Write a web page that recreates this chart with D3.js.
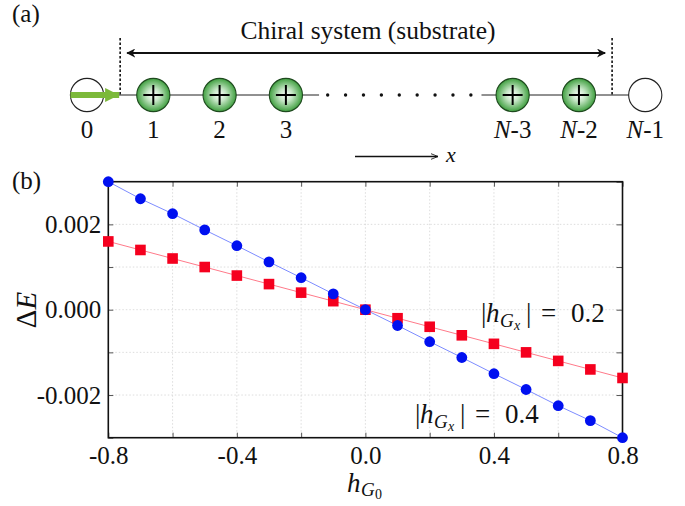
<!DOCTYPE html>
<html>
<head>
<meta charset="utf-8">
<script src="https://cdn.jsdelivr.net/npm/d3@7"></script>
<style>
  body { margin: 0; background: #fff; }
  svg { display: block; }
  text { font-family: "Liberation Serif", "Tinos", "Times New Roman", "DejaVu Serif", "Noto Serif", serif; fill: #111; }
</style>
</head>
<body>
<svg id="fig" width="685" height="506"></svg>
<script>
// --- data ---
const hG0 = [-0.8, -0.7, -0.6, -0.5, -0.4, -0.3, -0.2, -0.1, 0.0, 0.1, 0.2, 0.3, 0.4, 0.5, 0.6, 0.7, 0.8];
const dE_h02 = [0.0016, 0.0014, 0.0012, 0.0010, 0.0008, 0.0006, 0.0004, 0.0002, 0.0, -0.0002, -0.0004, -0.0006, -0.0008, -0.0010, -0.0012, -0.0014, -0.0016];
const dE_h04 = [0.0030, 0.0026, 0.00225, 0.00187, 0.0015, 0.00112, 0.00075, 0.00037, 0.0, -0.00037, -0.00075, -0.00112, -0.0015, -0.00187, -0.00225, -0.0026, -0.0030];
const xTicks = [-0.8, -0.6, -0.4, -0.2, 0.0, 0.2, 0.4, 0.6, 0.8];
const xTickLabels = [-0.8, -0.4, 0.0, 0.4, 0.8];
const yTicks = [-0.003, -0.002, -0.001, 0.0, 0.001, 0.002, 0.003];
const yTickLabels = [-0.002, 0.0, 0.002];

// chain diagram (panel a)
const siteSlot = [0, 1, 2, 3, 6.42, 7.42, 8.42];
const siteName = [["0"], ["1"], ["2"], ["3"], ["N", "-3"], ["N", "-2"], ["N", "-1"]];
const siteKind = ["empty", "plus", "plus", "plus", "plus", "plus", "empty"];
const dotSlot = [3.63, 3.9, 4.17, 4.44, 4.71, 4.98, 5.25, 5.52, 5.79];

const FONT = "'Liberation Serif', 'Tinos', 'Times New Roman', 'DejaVu Serif', serif";

const svg = d3.select("#fig");
svg.append("rect").attr("width", 685).attr("height", 506).attr("fill", "#fff");

// ---------------- panel (a) ----------------
const sx = d3.scaleLinear().domain([0, 1]).range([87, 153.3]);
const chainY = 95, r = 16.6;

const defs = svg.append("defs");
const grad = defs.append("radialGradient").attr("id", "ball")
    .attr("cx", "50%").attr("cy", "50%").attr("r", "50%");
grad.append("stop").attr("offset", "0%").attr("stop-color", "#ffffff");
grad.append("stop").attr("offset", "40%").attr("stop-color", "#c4e5c4");
grad.append("stop").attr("offset", "100%").attr("stop-color", "#3f9f3f");

const gA = svg.append("g");
gA.append("text").attr("x", 12).attr("y", 22).attr("font-size", 25).text("(a)");

// chain line (two pieces around the dots)
gA.append("line").attr("x1", sx(0)).attr("x2", sx(3.5)).attr("y1", chainY).attr("y2", chainY)
    .attr("stroke", "#222").attr("stroke-width", 1);
gA.append("line").attr("x1", sx(5.95)).attr("x2", sx(8.42)).attr("y1", chainY).attr("y2", chainY)
    .attr("stroke", "#222").attr("stroke-width", 1);

gA.selectAll("circle.dot").data(dotSlot).join("circle").attr("class", "dot")
    .attr("cx", d => sx(d)).attr("cy", chainY).attr("r", 1.7).attr("fill", "#111");

// dashed boundaries
[sx(0.5), sx(7.92)].forEach(x => {
    gA.append("line").attr("x1", x).attr("x2", x).attr("y1", 38).attr("y2", chainY)
        .attr("stroke", "#111").attr("stroke-width", 1.6).attr("stroke-dasharray", "2.5,2");
});

// double arrow
defs.append("marker").attr("id", "ah").attr("viewBox", "0 0 10 10")
    .attr("refX", 9).attr("refY", 5).attr("markerWidth", 9).attr("markerHeight", 9)
    .attr("markerUnits", "userSpaceOnUse").attr("orient", "auto-start-reverse")
    .append("path").attr("d", "M0,0 L10,5 L0,10 L3,5 Z").attr("fill", "#111");
gA.append("line").attr("x1", sx(0.5) + 7).attr("x2", sx(7.92) - 7).attr("y1", 53).attr("y2", 53)
    .attr("stroke", "#111").attr("stroke-width", 2.2)
    .attr("marker-start", "url(#ah)").attr("marker-end", "url(#ah)");
gA.append("text").attr("x", 368).attr("y", 38.5).attr("text-anchor", "middle")
    .attr("font-size", 25.5).text("Chiral system (substrate)");

// sites
const sites = gA.selectAll("g.site").data(siteSlot).join("g").attr("class", "site")
    .attr("transform", d => `translate(${sx(d)},${chainY})`);
sites.append("circle").attr("r", r)
    .attr("fill", (d, i) => siteKind[i] === "plus" ? "url(#ball)" : "#fff")
    .attr("stroke", (d, i) => siteKind[i] === "plus" ? "#1e4a1e" : "#222")
    .attr("stroke-width", 1.1);
sites.filter((d, i) => siteKind[i] === "plus").each(function () {
    const s = d3.select(this);
    s.append("line").attr("x1", -10).attr("x2", 10).attr("stroke", "#000").attr("stroke-width", 2);
    s.append("line").attr("y1", -10).attr("y2", 10).attr("stroke", "#000").attr("stroke-width", 2);
});
const lab = sites.append("text").attr("y", 43).attr("text-anchor", "middle").attr("font-size", 25);
lab.each(function (d, i) {
    const t = d3.select(this);
    const parts = siteName[i];
    if (parts.length === 2) {
        t.append("tspan").attr("font-style", "italic").text(parts[0]);
        t.append("tspan").text(parts[1]);
    } else t.text(parts[0]);
});

// green arrow on site 0
defs.append("marker").attr("id", "gh").attr("viewBox", "0 0 10 10")
    .attr("refX", 10).attr("refY", 5).attr("markerWidth", 16).attr("markerHeight", 14)
    .attr("markerUnits", "userSpaceOnUse").attr("orient", "auto")
    .append("path").attr("d", "M0,0 L10,5 L0,10 Z").attr("fill", "#7cb93a");
gA.append("line").attr("x1", sx(0) - r).attr("x2", sx(0.5) - 1).attr("y1", chainY).attr("y2", chainY)
    .attr("stroke", "#7cb93a").attr("stroke-width", 6).attr("marker-end", "url(#gh)");

// x direction arrow
defs.append("marker").attr("id", "xh").attr("viewBox", "0 0 10 10")
    .attr("refX", 10).attr("refY", 5).attr("markerWidth", 8).attr("markerHeight", 7)
    .attr("markerUnits", "userSpaceOnUse").attr("orient", "auto")
    .append("path").attr("d", "M0,1 L10,5 L0,9").attr("fill", "none").attr("stroke", "#111").attr("stroke-width", 1.2);
gA.append("line").attr("x1", 355).attr("x2", 438).attr("y1", 156.5).attr("y2", 156.5)
    .attr("stroke", "#111").attr("stroke-width", 1.3).attr("marker-end", "url(#xh)");
gA.append("text").attr("x", 446).attr("y", 162).attr("font-size", 22).attr("font-style", "italic").text("x");

// ---------------- panel (b) ----------------
const m = { left: 108.3, right: 622.5, top: 181.7, bottom: 437.7 };
const x = d3.scaleLinear().domain([-0.8, 0.8]).range([m.left, m.right]);
const y = d3.scaleLinear().domain([-0.003, 0.003]).range([m.bottom, m.top]);

const gB = svg.append("g");
gB.append("text").attr("x", 12).attr("y", 189).attr("font-size", 25).text("(b)");

// grid
gB.append("g").selectAll("line").data(xTicks.slice(1, -1)).join("line")
    .attr("x1", d => x(d)).attr("x2", d => x(d)).attr("y1", m.top).attr("y2", m.bottom)
    .attr("stroke", "#d4d4d4").attr("stroke-width", 0.8).attr("stroke-dasharray", "1.5,2");
gB.append("g").selectAll("line").data(yTicks.slice(1, -1)).join("line")
    .attr("x1", m.left).attr("x2", m.right).attr("y1", d => y(d)).attr("y2", d => y(d))
    .attr("stroke", "#d4d4d4").attr("stroke-width", 0.8).attr("stroke-dasharray", "1.5,2");

const fmtX = v => xTickLabels.some(t => Math.abs(t - v) < 1e-9) ? d3.format(".1f")(v).replace("−", "-") : "";
const fmtY = v => yTickLabels.some(t => Math.abs(t - v) < 1e-9) ? d3.format(".3f")(v).replace("−", "-") : "";

const styleAxis = g => {
    g.attr("font-family", null);
    g.select(".domain").remove();
    g.selectAll(".tick line").attr("stroke", "#555").attr("stroke-width", 1);
    g.selectAll(".tick text").style("font-family", FONT).attr("font-size", 25).attr("fill", "#111");
};
gB.append("g").attr("transform", `translate(0,${m.bottom})`)
    .call(d3.axisBottom(x).tickValues(xTicks).tickFormat(fmtX).tickSize(-5).tickPadding(9))
    .call(styleAxis);
gB.append("g").attr("transform", `translate(0,${m.top})`)
    .call(d3.axisTop(x).tickValues(xTicks).tickFormat("").tickSize(-5))
    .call(styleAxis);
gB.append("g").attr("transform", `translate(${m.left},0)`)
    .call(d3.axisLeft(y).tickValues(yTicks).tickFormat(fmtY).tickSize(-5).tickPadding(7))
    .call(styleAxis);
gB.append("g").attr("transform", `translate(${m.right},0)`)
    .call(d3.axisRight(y).tickValues(yTicks).tickFormat("").tickSize(-6))
    .call(styleAxis);

gB.append("rect").attr("x", m.left).attr("y", m.top)
    .attr("width", m.right - m.left).attr("height", m.bottom - m.top)
    .attr("fill", "none").attr("stroke", "#111").attr("stroke-width", 1.6);

// series
const line = d3.line().x(d => x(d[0])).y(d => y(d[1]));
const s02 = hG0.map((h, i) => [h, dE_h02[i]]);
const s04 = hG0.map((h, i) => [h, dE_h04[i]]);

gB.append("path").datum(s02).attr("d", line).attr("fill", "none")
    .attr("stroke", "#ff7a8a").attr("stroke-width", 1);
gB.append("path").datum(s04).attr("d", line).attr("fill", "none")
    .attr("stroke", "#7d8cff").attr("stroke-width", 1);

const sq = 10.6;
gB.append("g").selectAll("rect").data(s02).join("rect")
    .attr("x", d => x(d[0]) - sq / 2).attr("y", d => y(d[1]) - sq / 2)
    .attr("width", sq).attr("height", sq).attr("fill", "#f5001e");
gB.append("g").selectAll("circle").data(s04).join("circle")
    .attr("cx", d => x(d[0])).attr("cy", d => y(d[1])).attr("r", 5.4).attr("fill", "#0010f0");

// labels  |h_{G_x}| = val
function mathLabel(g, x0, yp, val) {
    const t = g.append("text").attr("y", yp).attr("font-size", 27);
    t.append("tspan").attr("x", x0).text("|");
    t.append("tspan").attr("x", x0 + 5).attr("font-style", "italic").text("h");
    t.append("tspan").attr("x", x0 + 19).attr("font-style", "italic").attr("font-size", 19).attr("dy", 5).text("G");
    t.append("tspan").attr("x", x0 + 33).attr("font-style", "italic").attr("font-size", 14).attr("dy", 3).text("x");
    t.append("tspan").attr("x", x0 + 45).attr("dy", -8).text("|");
    t.append("tspan").attr("x", x0 + 60).text("=");
    t.append("tspan").attr("x", x0 + 90).text(val);
}
mathLabel(gB, 481, 322, "0.2");
mathLabel(gB, 415, 423, "0.4");

// axis titles
const yt = gB.append("text").attr("transform", "translate(36,310) rotate(-90)")
    .attr("text-anchor", "middle").attr("font-size", 29);
yt.append("tspan").text("Δ");
yt.append("tspan").attr("font-style", "italic").text("E");

const xt = gB.append("text").attr("y", 492).attr("font-size", 27);
xt.append("tspan").attr("x", 347).attr("font-style", "italic").text("h");
xt.append("tspan").attr("x", 361).attr("font-style", "italic").attr("font-size", 19).attr("dy", 4).text("G");
xt.append("tspan").attr("x", 375).attr("font-size", 14).attr("dy", 3).text("0");
</script>
</body>
</html>
